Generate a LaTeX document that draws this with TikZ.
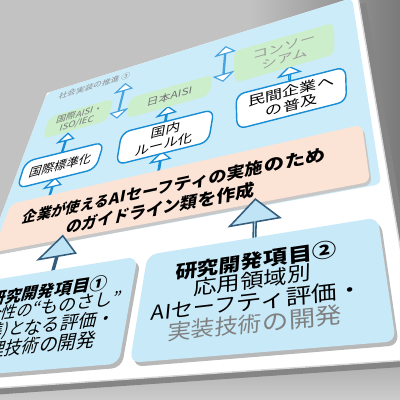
\documentclass[tikz,border=0pt]{standalone}
\usepackage{fontspec}
\setmainfont{Noto Sans CJK JP}
\usetikzlibrary{shapes.arrows}

\definecolor{panelblue}{RGB}{204,236,250}
\definecolor{boxgreen}{RGB}{204,238,202}
\definecolor{boxpink}{RGB}{251,228,214}
\definecolor{lineblue}{RGB}{24,140,212}
\definecolor{arrowfill}{RGB}{190,228,245}
\definecolor{arrowline}{RGB}{52,92,124}
\definecolor{itemblue}{RGB}{200,234,248}

% point of the tilted card (design px) in picture px
\newcommand\cp[2]{({hx(#1,#2)},{hy(#1,#2)})}
% local frame of the card at a design point
\newcommand\oncard[3]{%
  \pgfmathsetmacro\cmN{hd(#1,#2)}%
  \pgfmathsetmacro\cmX{hx(#1,#2)}%
  \pgfmathsetmacro\cmY{hy(#1,#2)}%
  \pgfmathsetmacro\cmA{0.71132*(233.56+0.20295*\cmX)/\cmN/400}%
  \pgfmathsetmacro\cmB{-0.71132*(-94.594+0.20295*\cmY)/\cmN/400}%
  \pgfmathsetmacro\cmC{-0.71132*(-58.02+0.21295*\cmX)/\cmN/240}%
  \pgfmathsetmacro\cmD{0.71132*(108.485+0.21295*\cmY)/\cmN/240}%
  \begin{scope}[cm={\cmA,\cmB,\cmC,\cmD,(\cmX,\cmY)}]#3\end{scope}}
% a line of text set piece by piece on the card (pieces: width in em/text)
\newlength\chunkpos
\newcommand\cardline[7][]{%
  \global\chunkpos=0pt
  \foreach \w/\ch in {#7}{\pgfmathsetmacro\chS{\chunkpos+\w*#5}\global\chunkpos=\chS pt}%
  \global\chunkpos=\dimexpr#3pt-0.5\chunkpos\relax
  \foreach \w/\ch [count=\k] in {#7}{%
    \pgfmathsetmacro\chX{\chunkpos+0.5*\w*#5}%
    \oncard{\chX}{#4}{\node[inner sep=0pt, font={\fontsize{#5}{#5}\selectfont#6}, #1] (#2-\k) {\ch};}%
    \pgfmathsetmacro\chS{\chunkpos+\w*#5}\global\chunkpos=\chS pt}}
% widths (in em) of the pieces that are not all full width
\newlength\tmpw
\newcommand\emwidth[2]{\settowidth\tmpw{\fontsize{10}{10}\selectfont#2}\pgfmathsetmacro#1{\tmpw/10}}
\AtBeginDocument{%
  \emwidth\wAI{AIセーフ}%
  \emwidth\wAIb{\bfseries AIセーフ}%
  \emwidth\wKijun{(基準)と}%
  \emwidth\wQuote{“ものさし”}}

\begin{document}
\begin{tikzpicture}[x=0.025cm, y=-0.025cm,
    declare function={
      hd(\X,\Y)=1-0.20295*(\X/400)-0.21295*(\Y/240);
      hx(\X,\Y)=(233.56*(\X/400)-58.02*(\Y/240)+47)/hd(\X,\Y);
      hy(\X,\Y)=(-94.594*(\X/400)+108.485*(\Y/240)+93)/hd(\X,\Y);},
    every node/.append style={transform shape},
    gbox/.style={fill=boxgreen, rounded corners=5pt, align=center, inner sep=0pt},
    wbox/.style={draw=lineblue, line width=1pt, fill=white, rounded corners=6pt, align=center,
      inner sep=0pt, minimum width=108pt, font=\fontsize{17}{19}\selectfont},
    uparrow/.style={single arrow, shape border rotate=90, draw=lineblue, line width=0.9pt,
      fill=white, inner sep=0pt, minimum width=22pt, single arrow head extend=5.5pt},
    linkarrow/.style={double arrow, shape border rotate=90, draw=lineblue!80, line width=0.8pt,
      fill=white, inner sep=0pt, minimum width=22pt, minimum height=56pt, double arrow head extend=5.5pt},
    bigarrow/.style={single arrow, shape border rotate=90, draw=arrowline, line width=1.1pt,
      fill=arrowfill, inner sep=0pt, minimum width=44pt, minimum height=40pt, single arrow head extend=10pt},
  ]
  \useasboundingbox (0,0) rectangle (400,400);

  % Background and card
  \fill[black!24] (0,0) rectangle (400,400);
  \shade[left color=black!24, right color=black!52] (250,0) rectangle (400,340);
  \shade[top color=black!42, bottom color=black!20] (0,330) rectangle (400,400);
  \fill[black!48, shift={(8,6)}] \cp{0}{0} -- \cp{406}{0} -- \cp{406}{374} -- \cp{0}{374} -- cycle;
  \fill[white] \cp{0}{0} -- \cp{406}{0} -- \cp{406}{374} -- \cp{0}{374} -- cycle;
  \draw[black!15, line width=1pt] \cp{406}{0} -- \cp{406}{374} -- \cp{0}{374};

  % Upper panel
  \fill[panelblue, rounded corners=4pt] \cp{0}{0} -- \cp{400}{0} -- \cp{400}{241} -- \cp{0}{241} -- cycle;
  \oncard{79}{15}{\node[font=\fontsize{13}{14}\selectfont, text=black!45, inner sep=0pt] (note) {社会実装の推進 ③};}

  % Arrows between the boxes
  \oncard{127}{58}{\node[linkarrow] (link1) {};}
  \oncard{257}{46}{\node[linkarrow] (link2) {};}
  \oncard{60}{103}{\node[uparrow, minimum height=28pt] (up1) {};}
  \oncard{193}{103}{\node[uparrow, minimum height=26pt] (up2) {};}
  \oncard{330}{92}{\node[uparrow, minimum height=24pt] (up3) {};}
  \oncard{62}{167}{\node[uparrow, minimum height=24pt] (up4) {};}
  \oncard{195}{166}{\node[uparrow, minimum height=24pt] (up5) {};}

  % Partners
  \oncard{69}{68}{\node[gbox, minimum width=94pt, minimum height=36pt, font=\fontsize{14}{15}\selectfont, text=black!55] (aisi) {国際AISI・\\ISO/IEC};}
  \oncard{193}{74}{\node[gbox, minimum width=104pt, minimum height=32pt, font=\fontsize{15}{16}\selectfont, text=black!55] (jaisi) {日本AISI};}
  \oncard{325}{56}{\node[gbox, minimum width=108pt, minimum height=50pt, font=\fontsize{17}{19}\selectfont, text=black!40] (consort) {コンソー\\シアム};}

  % Outcomes
  \oncard{64}{137}{\node[wbox, minimum height=38pt] (intl) {国際標準化};}
  \oncard{196}{134}{\node[wbox, minimum height=44pt] (domestic) {国内\\ルール化};}
  \oncard{331}{124}{\node[wbox, minimum height=46pt] (private) {民間企業へ\\の普及};}

  % Guidelines
  \fill[black!22, shift={(2,3)}, rounded corners=5pt] \cp{8}{177} -- \cp{392}{177} -- \cp{392}{237} -- \cp{8}{237} -- cycle;
  \fill[boxpink, rounded corners=5pt] \cp{8}{177} -- \cp{392}{177} -- \cp{392}{237} -- \cp{8}{237} -- cycle;
  \cardline{guide1}{198}{200}{18}{\bfseries}{6/企業が使える,\wAIb/AIセーフ,5/ティの実施,3/のため}
  \cardline{guide2}{198}{223}{18}{\bfseries}{4/のガイド,4/ライン類,3/を作成}

  % Research items
  \oncard{96}{254}{\node[bigarrow] (lift1) {};}
  \oncard{297}{254}{\node[bigarrow] (lift2) {};}
  \fill[black!28, shift={(3,4)}, rounded corners=7pt] \cp{2}{270} -- \cp{188}{270} -- \cp{188}{362} -- \cp{2}{362} -- cycle;
  \fill[itemblue, rounded corners=7pt] \cp{2}{270} -- \cp{188}{270} -- \cp{188}{362} -- \cp{2}{362} -- cycle;
  \fill[black!28, shift={(3,4)}, rounded corners=7pt] \cp{198}{270} -- \cp{394}{270} -- \cp{394}{362} -- \cp{198}{362} -- cycle;
  \fill[itemblue, rounded corners=7pt] \cp{198}{270} -- \cp{394}{270} -- \cp{394}{362} -- \cp{198}{362} -- cycle;

  \cardline[yscale=.85]{item1a}{96}{291}{19}{\bfseries}{4/研究開発,3/項目①}
  \cardline[yscale=.85]{item1b}{96}{307}{19}{}{4/安全性の,\wQuote/“ものさし”}
  \cardline[yscale=.85]{item1c}{96}{324}{19}{}{\wKijun/(基準)と,5/なる評価・}
  \cardline[yscale=.85]{item1d}{96}{341}{19}{}{4/管理技術,3/の開発}
  \cardline[yscale=.85]{item2a}{296}{291}{19}{\bfseries}{4/研究開発,3/項目②}
  \cardline[yscale=.85]{item2b}{296}{307}{19}{}{5/応用領域別}
  \cardline[yscale=.85]{item2c}{296}{324}{19}{}{\wAI/AIセーフ,5/ティ評価・}
  \cardline[yscale=.85, text=black!50]{item2d}{296}{341}{19}{}{4/実装技術,3/の開発}
\end{tikzpicture}
\end{document}
